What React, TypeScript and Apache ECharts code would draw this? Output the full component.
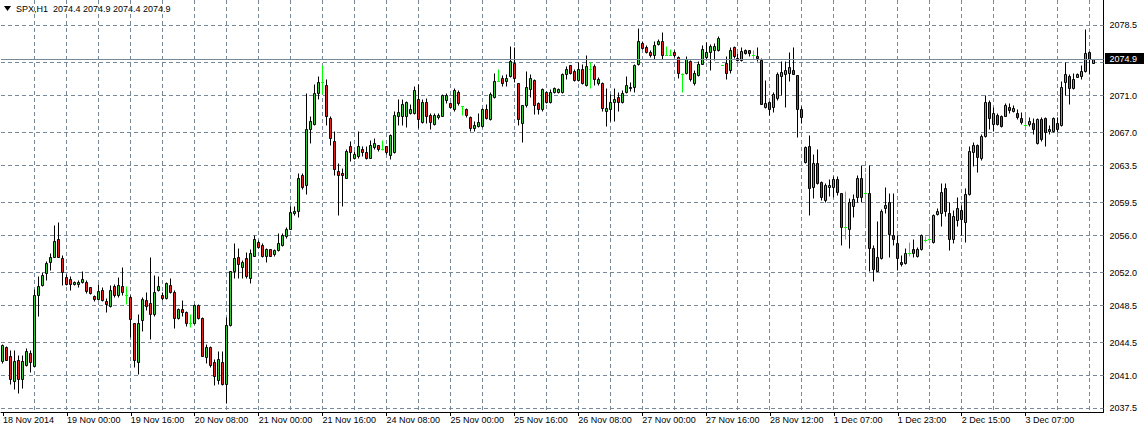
import React, { useEffect, useRef } from "react";
import * as echarts from "echarts";

// ---- data (H1 bars) ----
const opens = [
  2042.5, 2044.0, 2043.0, 2040.4, 2042.6, 2040.6, 2042.1, 2043.4, 2042.0, 2049.6,
  2050.6, 2051.9, 2053.1, 2053.6, 2055.6, 2053.5, 2051.5, 2051.3, 2050.8, 2050.8,
  2051.0, 2051.0, 2050.4, 2049.5, 2049.1, 2050.1, 2048.9, 2048.4, 2050.5, 2049.6,
  2050.5, 2049.6, 2049.4, 2046.6, 2042.4, 2046.9, 2049.0, 2048.7, 2047.6, 2050.1,
  2049.6, 2049.3, 2050.7, 2049.9, 2047.1, 2048.1, 2047.8, 2046.6, 2046.6, 2048.5,
  2047.1, 2042.9, 2044.0, 2042.4, 2040.5, 2042.4, 2040.0, 2046.4, 2052.1, 2053.7,
  2052.6, 2053.5, 2051.4, 2053.8, 2055.3, 2054.9, 2053.8, 2054.5, 2054.0, 2054.4,
  2054.9, 2055.9, 2056.7, 2058.4, 2058.6, 2062.4, 2061.4, 2067.4, 2067.9, 2071.2,
  2072.4, 2072.1, 2068.5, 2066.1, 2062.9, 2062.7, 2062.1, 2065.5, 2064.3, 2064.5,
  2065.2, 2064.9, 2064.3, 2065.4, 2065.7, 2065.2, 2065.5, 2064.6, 2064.9, 2068.7,
  2068.8, 2068.8, 2069.1, 2069.1, 2070.6, 2068.1, 2070.2, 2068.9, 2067.9, 2068.6,
  2068.8, 2070.5, 2070.1, 2069.5, 2071.3, 2069.8, 2069.5, 2068.6, 2067.5, 2067.7,
  2067.7, 2069.5, 2068.4, 2070.8, 2072.5, 2072.8, 2072.5, 2073.0, 2074.4, 2072.3,
  2068.0, 2069.9, 2071.6, 2072.6, 2070.1, 2069.5, 2071.3, 2070.2, 2071.3, 2071.3,
  2071.3, 2073.2, 2074.2, 2073.6, 2072.6, 2073.8, 2072.1, 2073.8, 2074.1, 2072.3,
  2072.3, 2069.3, 2069.5, 2070.2, 2070.8, 2070.2, 2071.3, 2071.9, 2071.9, 2074.3,
  2076.6, 2076.1, 2075.6, 2075.3, 2076.5, 2076.8, 2075.3, 2075.3, 2075.6, 2075.1,
  2073.3, 2073.4, 2074.6, 2072.3, 2073.1, 2074.3, 2075.1, 2075.6, 2075.8, 2075.8,
  2074.2, 2074.4, 2073.7, 2076.1, 2075.0, 2074.7, 2075.8, 2075.8, 2075.3, 2075.2,
  2074.8, 2069.7, 2070.3, 2069.7, 2070.7, 2073.0, 2073.2, 2073.4, 2073.7, 2073.1,
  2069.5, 2063.8, 2065.5, 2061.1, 2063.7, 2061.7, 2059.8, 2061.1, 2061.1, 2062.0,
  2060.5, 2056.9, 2056.6, 2059.1, 2060.1, 2062.1, 2060.5, 2060.5, 2054.6, 2052.1,
  2053.5, 2058.9, 2059.5, 2056.0, 2055.2, 2053.1, 2053.0, 2054.1, 2054.5, 2053.8,
  2054.5, 2055.5, 2055.6, 2055.3, 2058.3, 2058.4, 2061.0, 2058.4, 2055.6, 2057.6,
  2058.7, 2057.4, 2060.4, 2064.9, 2065.7, 2064.3, 2066.6, 2070.3, 2067.9, 2068.9,
  2068.8, 2068.8, 2069.7, 2069.3, 2069.1, 2068.5, 2067.8, 2067.9, 2068.0, 2065.9,
  2068.4, 2068.5, 2067.1, 2067.1, 2068.0, 2067.8, 2072.4, 2073.0, 2071.7, 2072.9,
  2073.0, 2073.6, 2075.6, 2074.4
];
const highs = [
  2044.3, 2044.1, 2043.7, 2043.7, 2043.2, 2043.2, 2043.9, 2043.7, 2050.2, 2051.6,
  2052.0, 2053.2, 2054.1, 2057.1, 2057.4, 2053.9, 2051.8, 2051.6, 2051.1, 2051.2,
  2052.1, 2051.2, 2050.4, 2049.6, 2050.8, 2050.4, 2049.3, 2050.7, 2050.8, 2051.5,
  2052.6, 2050.5, 2049.6, 2046.6, 2047.5, 2049.4, 2049.9, 2053.7, 2051.7, 2051.6,
  2049.9, 2051.0, 2051.4, 2050.1, 2048.2, 2049.0, 2047.9, 2047.5, 2048.6, 2048.6,
  2047.2, 2044.3, 2044.1, 2042.7, 2043.6, 2043.6, 2047.2, 2052.2, 2055.2, 2054.6,
  2053.3, 2054.2, 2054.5, 2056.0, 2055.5, 2055.1, 2054.6, 2054.5, 2054.5, 2056.2,
  2056.2, 2056.9, 2059.1, 2059.1, 2062.7, 2062.7, 2071.2, 2068.7, 2072.2, 2073.0,
  2074.2, 2072.7, 2068.7, 2067.2, 2063.7, 2063.2, 2065.2, 2066.1, 2065.0, 2067.2,
  2065.5, 2065.5, 2066.2, 2066.4, 2065.7, 2066.2, 2065.5, 2066.8, 2069.3, 2070.6,
  2070.6, 2070.4, 2070.0, 2072.0, 2072.2, 2070.6, 2070.7, 2069.1, 2069.1, 2069.1,
  2071.1, 2071.2, 2070.2, 2071.7, 2071.5, 2069.8, 2069.6, 2068.8, 2068.2, 2069.1,
  2069.6, 2070.0, 2071.3, 2073.4, 2073.8, 2073.1, 2073.2, 2076.2, 2076.1, 2072.3,
  2069.9, 2073.6, 2073.2, 2072.7, 2070.3, 2071.8, 2071.4, 2071.6, 2071.9, 2071.8,
  2073.4, 2074.1, 2074.2, 2073.8, 2074.5, 2074.3, 2075.3, 2074.5, 2074.3, 2072.9,
  2072.4, 2071.8, 2071.1, 2071.8, 2071.3, 2071.5, 2073.0, 2072.4, 2074.3, 2078.2,
  2076.8, 2076.4, 2075.8, 2076.8, 2077.0, 2077.7, 2076.2, 2075.9, 2075.8, 2075.2,
  2073.4, 2075.2, 2074.8, 2073.7, 2074.6, 2076.4, 2076.7, 2076.5, 2076.6, 2077.3,
  2074.2, 2075.2, 2076.1, 2076.2, 2075.5, 2076.1, 2075.9, 2075.8, 2075.8, 2076.1,
  2075.0, 2072.6, 2070.4, 2071.3, 2073.5, 2074.6, 2074.6, 2075.6, 2076.1, 2073.1,
  2069.8, 2065.5, 2066.7, 2064.7, 2065.2, 2061.8, 2061.6, 2062.0, 2062.3, 2062.3,
  2060.5, 2060.7, 2060.0, 2060.4, 2062.4, 2063.5, 2062.6, 2063.5, 2054.9, 2057.5,
  2058.8, 2061.2, 2060.5, 2060.5, 2056.0, 2053.9, 2054.6, 2055.3, 2055.6, 2054.7,
  2056.1, 2055.9, 2057.0, 2058.3, 2058.9, 2061.6, 2061.6, 2059.5, 2058.7, 2060.1,
  2059.2, 2061.0, 2065.5, 2066.0, 2065.8, 2066.8, 2071.0, 2070.5, 2069.7, 2069.1,
  2068.9, 2070.1, 2070.1, 2069.9, 2069.5, 2069.2, 2068.9, 2068.6, 2068.5, 2068.5,
  2068.6, 2068.6, 2067.8, 2068.6, 2068.6, 2072.5, 2074.5, 2073.3, 2073.4, 2073.4,
  2074.2, 2078.1, 2075.7, 2074.9
];
const lows = [
  2042.3, 2042.6, 2040.0, 2039.5, 2039.1, 2039.6, 2042.0, 2041.3, 2042.0, 2047.3,
  2050.5, 2051.2, 2052.3, 2053.6, 2053.6, 2050.7, 2050.7, 2050.1, 2050.6, 2050.4,
  2050.9, 2049.8, 2049.7, 2048.9, 2049.0, 2048.9, 2047.8, 2048.3, 2049.4, 2049.4,
  2049.6, 2048.6, 2045.1, 2041.9, 2041.1, 2045.7, 2048.0, 2044.9, 2047.3, 2050.0,
  2049.0, 2049.1, 2049.8, 2046.1, 2047.0, 2047.3, 2046.3, 2046.2, 2046.5, 2047.0,
  2043.0, 2042.3, 2041.9, 2039.9, 2040.0, 2039.9, 2038.0, 2046.3, 2051.4, 2051.4,
  2051.4, 2051.4, 2050.9, 2053.8, 2054.6, 2053.6, 2053.1, 2053.8, 2053.8, 2054.3,
  2054.8, 2055.7, 2056.6, 2058.1, 2057.9, 2060.9, 2060.4, 2065.9, 2067.8, 2070.6,
  2071.1, 2067.8, 2065.7, 2062.4, 2058.1, 2059.1, 2062.1, 2063.9, 2064.2, 2064.3,
  2064.5, 2064.2, 2064.3, 2065.2, 2065.0, 2065.1, 2064.7, 2064.2, 2064.8, 2067.8,
  2067.8, 2067.6, 2069.0, 2069.0, 2067.5, 2068.0, 2068.0, 2067.4, 2067.8, 2068.4,
  2068.8, 2070.1, 2069.6, 2069.3, 2069.9, 2068.9, 2068.6, 2067.2, 2067.2, 2067.6,
  2067.6, 2068.4, 2068.3, 2070.7, 2072.5, 2072.0, 2072.0, 2072.9, 2072.4, 2067.8,
  2066.0, 2069.7, 2070.8, 2069.0, 2069.0, 2069.3, 2070.1, 2070.1, 2071.2, 2071.2,
  2071.2, 2072.7, 2073.3, 2072.5, 2072.5, 2072.2, 2072.0, 2071.8, 2072.1, 2072.1,
  2069.3, 2067.7, 2068.2, 2068.2, 2069.3, 2070.1, 2071.2, 2071.4, 2071.3, 2074.2,
  2075.9, 2075.5, 2075.1, 2074.9, 2076.4, 2074.9, 2075.3, 2075.3, 2075.1, 2072.8,
  2071.3, 2073.3, 2072.5, 2072.1, 2073.0, 2074.3, 2074.7, 2073.7, 2074.8, 2075.7,
  2074.2, 2072.7, 2073.4, 2075.0, 2074.6, 2074.6, 2075.4, 2075.2, 2074.9, 2074.6,
  2070.0, 2069.6, 2068.9, 2069.2, 2070.5, 2071.0, 2069.7, 2072.5, 2073.2, 2066.5,
  2068.0, 2063.7, 2058.1, 2060.0, 2061.5, 2059.8, 2059.5, 2060.2, 2060.1, 2060.3,
  2054.9, 2055.6, 2054.6, 2057.9, 2059.5, 2059.5, 2057.2, 2052.1, 2051.1, 2052.1,
  2053.4, 2058.4, 2053.7, 2054.9, 2052.3, 2052.7, 2052.9, 2053.8, 2053.6, 2053.7,
  2054.4, 2055.3, 2055.2, 2055.2, 2058.2, 2057.0, 2058.0, 2054.4, 2055.2, 2057.0,
  2056.0, 2055.3, 2060.3, 2063.4, 2062.8, 2064.0, 2066.5, 2067.4, 2067.1, 2067.8,
  2067.6, 2068.7, 2069.1, 2069.2, 2068.4, 2067.9, 2067.5, 2067.7, 2066.8, 2065.8,
  2066.1, 2065.5, 2066.8, 2067.0, 2067.0, 2067.7, 2071.0, 2070.0, 2071.6, 2072.9,
  2072.7, 2073.5, 2073.3, 2074.4
];
const closes = [
  2044.2, 2042.6, 2040.6, 2042.5, 2040.6, 2042.5, 2043.6, 2042.4, 2049.6, 2050.5,
  2051.7, 2053.0, 2053.7, 2055.4, 2053.6, 2052.0, 2050.8, 2050.8, 2051.0, 2051.0,
  2051.3, 2050.0, 2049.8, 2049.1, 2050.0, 2049.0, 2048.6, 2050.1, 2049.6, 2050.7,
  2049.9, 2049.6, 2047.0, 2042.6, 2046.6, 2049.2, 2048.4, 2047.6, 2049.9, 2050.5,
  2049.3, 2050.9, 2049.9, 2047.1, 2048.1, 2047.8, 2046.6, 2046.6, 2048.5, 2047.1,
  2043.0, 2044.0, 2042.1, 2040.9, 2042.7, 2040.0, 2046.4, 2052.1, 2053.5, 2052.9,
  2053.1, 2051.6, 2054.1, 2055.6, 2054.7, 2053.8, 2054.5, 2053.8, 2054.4, 2055.2,
  2056.0, 2056.7, 2058.5, 2058.6, 2062.1, 2061.1, 2067.4, 2068.2, 2071.2, 2072.4,
  2072.4, 2068.7, 2066.4, 2063.1, 2062.4, 2062.4, 2065.0, 2064.9, 2064.7, 2065.5,
  2064.9, 2064.3, 2065.7, 2065.9, 2065.2, 2065.2, 2064.9, 2066.7, 2068.9, 2069.2,
  2070.0, 2070.2, 2069.5, 2071.5, 2068.4, 2070.2, 2068.7, 2068.1, 2068.9, 2068.9,
  2071.0, 2071.0, 2069.7, 2071.5, 2070.1, 2069.8, 2068.9, 2067.5, 2067.8, 2068.1,
  2069.5, 2068.5, 2071.1, 2072.5, 2072.5, 2072.3, 2072.8, 2074.6, 2072.8, 2068.4,
  2069.9, 2071.9, 2072.8, 2069.9, 2069.5, 2071.6, 2070.3, 2071.3, 2071.7, 2071.6,
  2073.2, 2073.8, 2073.4, 2072.6, 2073.8, 2072.3, 2074.1, 2073.8, 2072.7, 2072.7,
  2069.6, 2069.6, 2070.2, 2070.6, 2070.3, 2071.2, 2072.1, 2071.7, 2074.2, 2076.8,
  2076.0, 2075.6, 2075.3, 2076.4, 2076.8, 2075.3, 2075.3, 2075.3, 2075.3, 2073.4,
  2073.3, 2074.9, 2072.7, 2073.4, 2074.3, 2075.9, 2075.6, 2076.2, 2076.2, 2077.1,
  2074.2, 2073.4, 2075.8, 2075.2, 2074.7, 2075.7, 2075.5, 2075.5, 2075.3, 2075.0,
  2070.0, 2070.1, 2069.5, 2071.1, 2073.3, 2073.5, 2073.7, 2074.0, 2073.3, 2069.5,
  2068.6, 2065.4, 2061.0, 2063.7, 2061.6, 2060.1, 2061.4, 2061.4, 2062.0, 2060.6,
  2056.9, 2056.9, 2059.5, 2059.9, 2062.1, 2060.1, 2060.5, 2054.6, 2052.4, 2053.7,
  2058.6, 2059.2, 2056.1, 2055.6, 2053.5, 2052.9, 2054.1, 2054.1, 2054.1, 2054.5,
  2056.0, 2055.5, 2055.6, 2058.2, 2058.6, 2060.6, 2058.6, 2055.6, 2058.0, 2058.9,
  2057.7, 2060.4, 2065.0, 2065.7, 2064.4, 2066.6, 2070.2, 2068.5, 2069.1, 2067.9,
  2067.7, 2069.9, 2069.4, 2069.6, 2068.6, 2068.1, 2067.8, 2068.2, 2067.4, 2068.4,
  2066.3, 2067.0, 2067.4, 2068.5, 2067.4, 2071.9, 2073.2, 2071.7, 2072.7, 2073.2,
  2073.6, 2075.5, 2074.9, 2074.9
];

// one label every 16 bars
const tickLabels = [
  "18 Nov 2014", "19 Nov 00:00", "19 Nov 16:00", "20 Nov 08:00", "21 Nov 00:00",
  "21 Nov 16:00", "24 Nov 08:00", "25 Nov 00:00", "25 Nov 16:00", "26 Nov 08:00",
  "27 Nov 00:00", "27 Nov 16:00", "28 Nov 12:00", "1 Dec 07:00", "1 Dec 23:00",
  "2 Dec 15:00", "3 Dec 07:00", "3 Dec 23:00"
];
const priceLevels = [
  2037.5, 2041.0, 2044.5, 2048.5, 2052.0, 2056.0, 2059.5, 2063.5, 2067.0, 2071.0,
  2074.5, 2078.5
];
const symbolTitle = "SPX,H1  2074.4 2074.9 2074.4 2074.9";
const lastPrice = 2074.9;

const LABEL_STEP = 16;
const GRID_STEP = 8;
const SLOTS = 276; // visible bar slots on the time axis (4 px each)

const UP_FILL = "#32cd32";
const DOWN_FILL = "#e8201a";
const DOJI = "#00ff00";
const GRID_COLOR = "#778899";

const snap = (v: number) => Math.round(v - 0.5) + 0.5;

export default function App() {
  const ref = useRef<HTMLDivElement>(null);

  useEffect(() => {
    document.body.style.margin = "0";
    if (!ref.current) return;
    const chart = echarts.init(ref.current, undefined, { renderer: "svg" });

    const categories = Array.from({ length: SLOTS }, (_, i) => String(i));
    const candleRows = opens.map((o, i) => [i, o, closes[i], lows[i], highs[i]]);
    const vGrid: number[] = [];
    for (let i = GRID_STEP; i < opens.length; i += GRID_STEP) vGrid.push(i);
    // the price box hides the grid label right under the last price
    const labelLevels = priceLevels.filter((v) => Math.abs(v - lastPrice) > 1);

    const font = "'Liberation Sans', Arial, sans-serif";

    chart.setOption({
      animation: false,
      backgroundColor: "#ffffff",
      grid: { left: -0.5, right: 40.5, top: 0, bottom: 19 },
      xAxis: {
        type: "category",
        data: categories,
        boundaryGap: true,
        axisLine: { show: true, lineStyle: { color: "#000000", width: 1 } },
        axisTick: {
          show: true,
          interval: (i: number) => i % LABEL_STEP === 0,
          alignWithLabel: true,
          length: 4,
          lineStyle: { color: "#000000" },
        },
        axisLabel: {
          interval: (i: number) => i % LABEL_STEP === 0,
          formatter: (_v: string, i: number) => tickLabels[i / LABEL_STEP] ?? "",
          align: "left",
          color: "#000000",
          fontSize: 9,
          fontFamily: font,
          margin: 3,
          showMinLabel: true,
          showMaxLabel: false,
        },
        splitLine: { show: false },
      },
      yAxis: {
        type: "value",
        position: "right",
        min: 2037.104,
        max: 2081.231,
        scale: true,
        axisLine: { show: true, lineStyle: { color: "#000000", width: 1 } },
        axisTick: { show: false },
        splitLine: { show: false },
        axisLabel: {
          customValues: labelLevels,
          formatter: (v: number) => v.toFixed(1),
          color: "#000000",
          fontSize: 9,
          fontFamily: font,
          margin: 6,
        },
      },
      graphic: [
        {
          type: "polygon",
          shape: { points: [[4, 6], [11, 6], [7.5, 11]] },
          style: { fill: "#000000" },
        },
        {
          type: "text",
          left: 16,
          top: 4,
          style: { text: symbolTitle, fill: "#000000", font: `9px ${font}` },
        },
      ],
      series: [
        // horizontal dashed grid
        {
          type: "custom",
          silent: true,
          z: 1,
          data: priceLevels.map((v) => [0, v]),
          encode: { x: 0, y: 1 },
          renderItem: (params: any, api: any) => {
            const cs = params.coordSys;
            const y = snap(api.coord([0, api.value(1)])[1]);
            return {
              type: "line",
              shape: { x1: cs.x, y1: y, x2: cs.x + cs.width, y2: y },
              style: { stroke: GRID_COLOR, lineWidth: 1, lineDash: [4, 3] },
            };
          },
        },
        // vertical dashed grid
        {
          type: "custom",
          silent: true,
          z: 1,
          data: vGrid.map((i) => [i, priceLevels[0]]),
          encode: { x: 0, y: 1 },
          renderItem: (params: any, api: any) => {
            const cs = params.coordSys;
            const x = snap(api.coord([api.value(0), priceLevels[0]])[0]);
            return {
              type: "line",
              shape: { x1: x, y1: cs.y, x2: x, y2: cs.y + cs.height },
              style: { stroke: GRID_COLOR, lineWidth: 1, lineDash: [4, 3] },
            };
          },
        },
        // candles
        {
          type: "custom",
          silent: true,
          z: 2,
          data: candleRows,
          encode: { x: 0, y: [1, 2, 3, 4] },
          renderItem: (_params: any, api: any) => {
            const i = api.value(0);
            const o = api.value(1);
            const c = api.value(2);
            const l = api.value(3);
            const h = api.value(4);
            const x = snap(api.coord([i, o])[0]);
            const yo = snap(api.coord([i, o])[1]);
            const yc = snap(api.coord([i, c])[1]);
            const yl = snap(api.coord([i, l])[1]);
            const yh = snap(api.coord([i, h])[1]);
            if (o === c) {
              return {
                type: "group",
                children: [
                  {
                    type: "line",
                    shape: { x1: x, y1: yh, x2: x, y2: yl },
                    style: { stroke: DOJI, lineWidth: 1 },
                  },
                  {
                    type: "line",
                    shape: { x1: x - 1.5, y1: yo, x2: x + 1.5, y2: yo },
                    style: { stroke: DOJI, lineWidth: 1 },
                  },
                ],
              };
            }
            const top = Math.min(yo, yc);
            const bottom = Math.max(yo, yc);
            return {
              type: "group",
              children: [
                {
                  type: "line",
                  shape: { x1: x, y1: yh, x2: x, y2: yl },
                  style: { stroke: "#000000", lineWidth: 1 },
                },
                {
                  type: "rect",
                  shape: { x: x - 1, y: top, width: 2, height: Math.max(bottom - top, 1) },
                  style: { fill: c > o ? UP_FILL : DOWN_FILL, stroke: "#000000", lineWidth: 1 },
                },
              ],
            };
          },
        },
        // bid line with the last price box
        {
          type: "custom",
          silent: true,
          z: 3,
          data: [[0, lastPrice]],
          encode: { x: 0, y: 1 },
          renderItem: (params: any, api: any) => {
            const cs = params.coordSys;
            const y = snap(api.coord([0, api.value(1)])[1]);
            const right = cs.x + cs.width;
            return {
              type: "group",
              children: [
                {
                  type: "line",
                  shape: { x1: cs.x, y1: y, x2: right, y2: y },
                  style: { stroke: GRID_COLOR, lineWidth: 1 },
                },
                {
                  type: "rect",
                  shape: { x: right + 1.5, y: y - 6.5, width: 39, height: 11 },
                  style: { fill: "#000000" },
                },
                {
                  type: "text",
                  x: right + 6,
                  y: y - 1,
                  style: {
                    text: api.value(1).toFixed(1),
                    fill: "#ffffff",
                    font: `9px ${font}`,
                    verticalAlign: "middle",
                    align: "left",
                  },
                },
              ],
            };
          },
        },
      ],
    });

    return () => chart.dispose();
  }, []);

  return <div ref={ref} style={{ width: 1144, height: 431 }} />;
}
